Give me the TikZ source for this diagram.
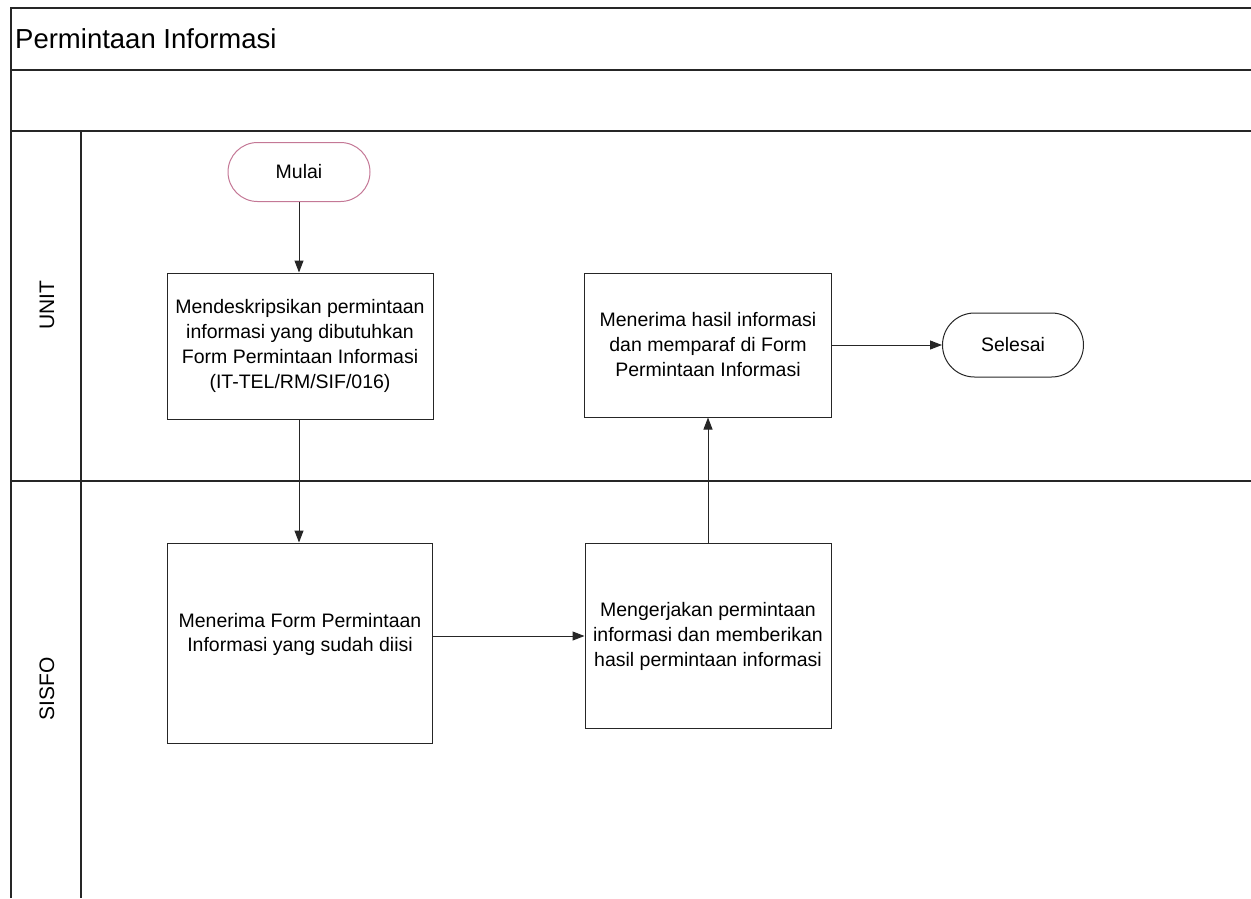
\documentclass[tikz,border=0pt]{standalone}
\usepackage{fontspec}
\setmainfont{Liberation Sans}
\usetikzlibrary{arrows.meta,shapes.misc}
\definecolor{startpink}{RGB}{196,120,150}
\begin{document}
\begin{tikzpicture}[x=1pt,y=-1pt,
  frame/.style={line width=1.1pt,draw=black!85},
  procbox/.style={draw=black!85,line width=1pt,rectangle,inner sep=0pt,align=center,font=\fontsize{19.5}{25}\selectfont},
  term/.style={draw=black!85,line width=1pt,rounded rectangle,inner sep=0pt,font=\fontsize{19.5}{22}\selectfont},
  txt/.style={align=center,font=\fontsize{19.5}{24}\selectfont,inner sep=0pt},
  lanelabel/.style={rotate=90,font=\fontsize{21}{24}\selectfont,inner sep=0pt},
  arr/.style={draw=black!85,line width=1pt,-{Triangle[length=12pt,width=9pt]}}]
\useasboundingbox (0,0) rectangle (1251,898);
% frame
\draw[frame] (11,898) -- (11,8) -- (1251,8);
\draw[frame] (11,70) -- (1251,70);
\draw[frame] (11,131) -- (1251,131);
\draw[frame] (11,481) -- (1251,481);
\draw[frame] (81,131) -- (81,898);
\node[anchor=west,font=\fontsize{27.5}{32}\selectfont,inner sep=0pt] (title) at (15,39) {Permintaan Informasi};
\node[lanelabel] (unit) at (47,305) {UNIT};
\node[lanelabel] (sisfo) at (47,689) {SISFO};
% nodes
\node[term,draw=startpink,minimum width=142pt,minimum height=59pt] (mulai) at (299,172) {Mulai};
\node[procbox,minimum width=266pt,minimum height=146pt] (b1) at (300,346)
  {Mendeskripsikan permintaan\\informasi yang dibutuhkan\\Form Permintaan Informasi\\(IT-TEL/RM/SIF/016)};
\node[procbox,minimum width=265pt,minimum height=200pt] (b2) at (300,643) {};
\node[txt] (b2t) at (300,634) {Menerima Form Permintaan\\Informasi yang sudah diisi};
\node[procbox,minimum width=246pt,minimum height=185pt] (b3) at (708,636)
  {Mengerjakan permintaan\\informasi dan memberikan\\hasil permintaan informasi};
\node[procbox,minimum width=247pt,minimum height=144pt] (b4) at (708,345)
  {Menerima hasil informasi\\dan memparaf di Form\\Permintaan Informasi};
\node[term,minimum width=141pt,minimum height=64pt] (selesai) at (1013,345) {Selesai};
% connectors
\draw[arr] (mulai.south) -- (mulai.south |- b1.north);
\draw[arr] (b1.south -| mulai.south) -- (b2.north -| mulai.south);
\draw[arr] (b2.east |- b3.west) -- (b3.west);
\draw[arr] (b3.north) -- (b4.south);
\draw[arr] (b4.east) -- (selesai.west);
\end{tikzpicture}
\end{document}
